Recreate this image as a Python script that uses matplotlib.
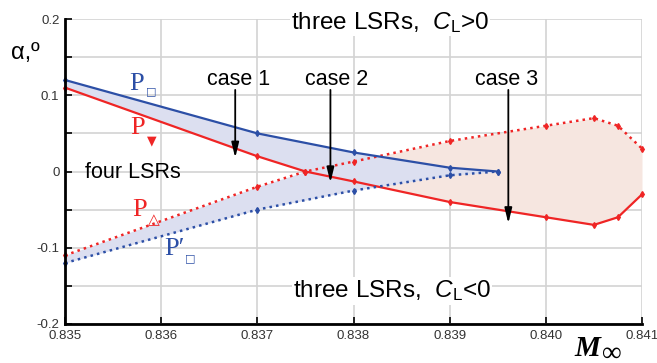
import numpy as np
import matplotlib
matplotlib.use("Agg")
import matplotlib.pyplot as plt

plt.rcParams['font.family'] = ['Liberation Sans', 'DejaVu Sans']
plt.rcParams['mathtext.fontset'] = 'custom'
plt.rcParams['mathtext.rm'] = 'Liberation Sans'
plt.rcParams['mathtext.it'] = 'Liberation Sans:italic'

# upper blue curve P_sq (solid) and its mirror P'_sq (dotted)
m_blue = [0.835, 0.837, 0.838, 0.839, 0.8395]
a_sq = [0.12, 0.05, 0.025, 0.005, 0.0]
a_sq_prime = [-0.12, -0.05, -0.025, -0.005, 0.0]

# red curves: P_down (solid) and P_delta (dotted)
m_red = [0.835, 0.837, 0.8375, 0.838, 0.839, 0.840, 0.8405, 0.84075, 0.841]
a_down = [0.11, 0.02, 0.0, -0.013, -0.04, -0.06, -0.07, -0.06, -0.03]
a_delta = [-0.11, -0.02, 0.0, 0.013, 0.04, 0.06, 0.07, 0.06, 0.03]

x_ticks = [0.835, 0.836, 0.837, 0.838, 0.839, 0.840, 0.841]
x_labels = ['0.835', '0.836', '0.837', '0.838', '0.839', '0.840', '0.841']
y_ticks = [-0.2, -0.15, -0.1, -0.05, 0.0, 0.05, 0.1, 0.15, 0.2]
y_labels = ['-0.2', '', '-0.1', '', '0', '', '0.1', '', '0.2']

# arrows: x position, tip alpha
cases = ['case 1', 'case 2', 'case 3']
case_x = [0.83677, 0.83776, 0.83961]
case_tip = [0.018, -0.0145, -0.068]
case_text_x = [0.83680, 0.83782, 0.83959]

BLUE = '#2c4fa6'
RED = '#ef2525'
BLUE_FILL = '#dcdff0'
PINK_FILL = '#f6e6e0'

fig = plt.figure(figsize=(6.57, 3.63), dpi=100)
ax = fig.add_axes([65 / 657, 1 - 324 / 363, 577 / 657, 305 / 363])

# pink region between red curves, right of their crossing
xp = np.linspace(0.8375, 0.841, 400)
ax.fill_between(xp, np.interp(xp, m_red, a_down), np.interp(xp, m_red, a_delta),
                color=PINK_FILL, lw=0, zorder=1)

# blue region between the blue curves and the red ones
xb = np.linspace(0.835, 0.8395, 400)
up = np.interp(xb, m_blue, a_sq)
lo = np.interp(xb, m_blue, a_sq_prime)
dn = np.interp(xb, m_red, a_down)
dl = np.interp(xb, m_red, a_delta)
ax.fill_between(xb, np.maximum(dn, lo), up, where=up >= np.maximum(dn, lo),
                color=BLUE_FILL, lw=0, zorder=1.5)
ax.fill_between(xb, lo, np.minimum(dl, up), where=np.minimum(dl, up) >= lo,
                color=BLUE_FILL, lw=0, zorder=1.5)

ax.plot(m_red, a_down, '-', color=RED, lw=1.6, marker='d', ms=3, zorder=3, clip_on=False)
ax.plot(m_red, a_delta, ':', color=RED, lw=1.8, marker='d', ms=3, zorder=3, clip_on=False)
ax.plot(m_blue, a_sq, '-', color=BLUE, lw=1.6, marker='d', ms=3, zorder=3, clip_on=False)
ax.plot(m_blue, a_sq_prime, ':', color=BLUE, lw=1.8, marker='d', ms=3, zorder=3, clip_on=False)

for name, cx, tip, tx in zip(cases, case_x, case_tip, case_text_x):
    ax.annotate('', xy=(cx, tip), xytext=(cx, 0.107),
                arrowprops=dict(arrowstyle='-|>,head_length=0.9,head_width=0.22',
                                color='black', lw=1.3, shrinkA=0, shrinkB=0),
                zorder=5)
    ax.text(tx, 0.113, name, fontsize=15.5, ha='center', va='baseline', zorder=5)

# curve labels
serif = ['Liberation Serif', 'DejaVu Serif']
ax.text(0.83574, 0.115, 'P', color=BLUE, fontsize=19, family=serif, ha='center', va='center')
ax.text(0.83590, 0.105, '\u25a1', color=BLUE, fontsize=8, family='DejaVu Sans',
        ha='center', va='center')
ax.text(0.83575, 0.057, 'P', color=RED, fontsize=19, family=serif, ha='center', va='center')
ax.text(0.83590, 0.040, '\u25bc', color=RED, fontsize=9, family='DejaVu Sans',
        ha='center', va='center')
ax.text(0.83577, -0.050, 'P', color=RED, fontsize=19, family=serif, ha='center', va='center')
ax.text(0.83592, -0.063, '\u25b3', color=RED, fontsize=11, family='DejaVu Sans',
        weight='bold', ha='center', va='center')
ax.text(0.83614, -0.102, 'P\u2032', color=BLUE, fontsize=19, family=serif, ha='center', va='center')
ax.text(0.83630, -0.114, '\u25a1', color=BLUE, fontsize=8, family='DejaVu Sans',
        ha='center', va='center')

# region labels
bb = dict(facecolor='white', edgecolor='none', pad=1)
ax.text(0.83838, 0.187, 'three LSRs,  $\\mathit{C}_\\mathrm{L}$>0', fontsize=17.5,
        ha='center', va='baseline', bbox=bb, zorder=4)
ax.text(0.83840, -0.165, 'three LSRs,  $\\mathit{C}_\\mathrm{L}$<0', fontsize=17.5,
        ha='center', va='baseline', bbox=bb, zorder=4)
ax.text(0.83521, -0.0085, 'four LSRs', fontsize=15.5, ha='left', va='baseline', zorder=4)

ax.set_xlim(0.835, 0.841)
ax.set_ylim(-0.2, 0.2)
ax.set_xticks(x_ticks)
ax.set_xticklabels(x_labels)
ax.set_yticks(y_ticks)
ax.set_yticklabels(y_labels)
ax.tick_params(direction='in', length=5, width=1.2, labelsize=9.5,
               labelcolor='#333333', pad=4)
ax.grid(True, color='#d3d3d3', lw=1.2, zorder=0)
ax.set_axisbelow(True)
for s in ['top', 'right']:
    ax.spines[s].set_visible(False)
for s in ['left', 'bottom']:
    ax.spines[s].set_linewidth(2)
    ax.spines[s].set_zorder(6)

fig.text(11 / 657, 1 - 53 / 363, '\u03b1,\u00ba', fontsize=17, ha='left', va='center',
         family=['Liberation Sans', 'DejaVu Sans'])
fig.text(574 / 657, 1 - 356 / 363, 'M', fontsize=21, family=serif, weight='bold',
         style='italic', ha='left', va='baseline')
fig.text(602 / 657, 2.5 / 363, '\u221e', fontsize=20, family=serif,
         ha='left', va='baseline')

fig.savefig('out.png', dpi=100)
